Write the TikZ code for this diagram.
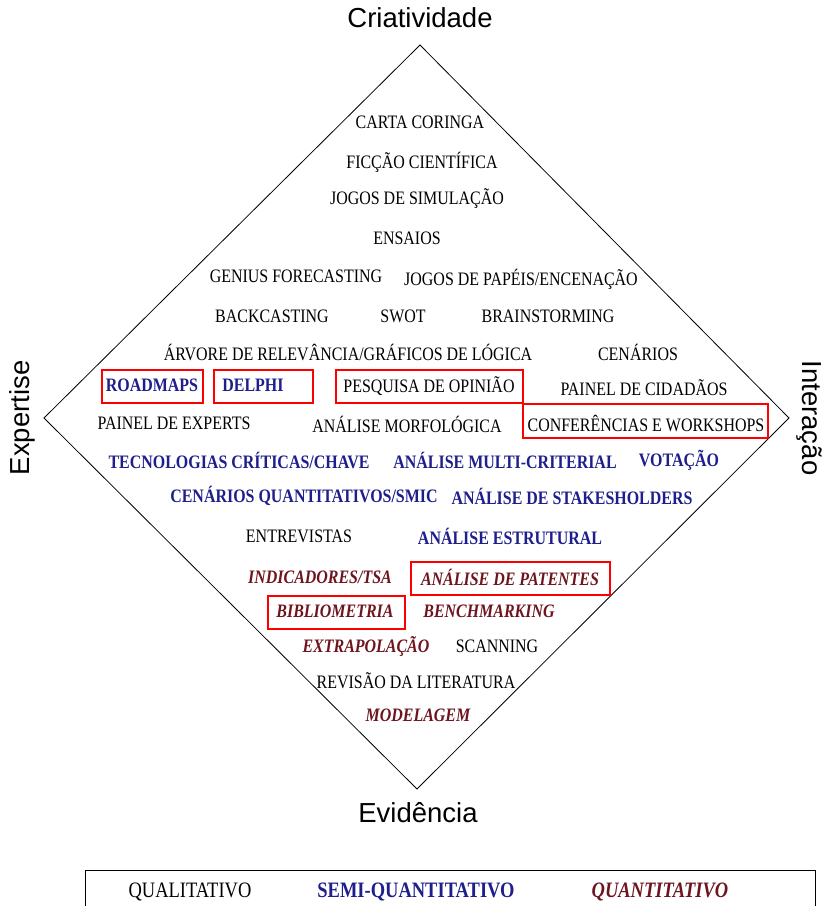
\documentclass[tikz,border=0pt]{standalone}
\usepackage{fontspec}
\setmainfont{Liberation Serif}
\newfontfamily\metodofont{Liberation Serif}[FakeStretch=0.84]
\newfontfamily\eixofont{Liberation Sans}
\usetikzlibrary{positioning}

\definecolor{semiazul}{RGB}{30,30,140}
\definecolor{quantivermelho}{RGB}{110,20,30}

\tikzset{
  quali/.style={font=\metodofont\fontsize{19}{19}\selectfont, inner sep=1pt},
  semi/.style={font=\metodofont\fontsize{19}{19}\selectfont\bfseries, text=semiazul, inner sep=1pt},
  quanti/.style={font=\metodofont\fontsize{19}{19}\selectfont\bfseries\itshape, text=quantivermelho, inner sep=1pt},
  destaque/.style={draw=red, line width=1.5pt},
  eixo/.style={font=\eixofont\fontsize{27.5}{27.5}\selectfont}
}

\begin{document}
\begin{tikzpicture}[x=1pt, y=-1pt]
  \path[use as bounding box, clip] (0,0) rectangle (825,906);

  % Losango
  \coordinate (topo) at (420,45);
  \coordinate (dir) at (789,418);
  \coordinate (base) at (417,789);
  \coordinate (esq) at (44,418);
  \draw[line width=0.8pt] (topo) -- (dir) -- (base) -- (esq) -- cycle;

  % Eixos
  \node[eixo] (criat) at (420,18) {Criatividade};
  \node[eixo] (evid) at (418,813) {Evidência};
  \node[eixo, rotate=90] (expert) at (22,418) {Expertise};
  \node[eixo, rotate=-90] (inter) at (809,418) {Interação};

  % Metodos
  \node[quali] (carta) at (420,122) {CARTA CORINGA};
  \node[quali] (ficcao) at (422,162) {FICÇÃO CIENTÍFICA};
  \node[quali] (jogossim) at (417,199) {JOGOS DE SIMULAÇÃO};
  \node[quali] (ensaios) at (407,238) {ENSAIOS};
  \node[quali] (genius) at (296,276) {GENIUS FORECASTING};
  \node[quali] (jogospap) at (521,279) {JOGOS DE PAPÉIS/ENCENAÇÃO};
  \node[quali] (backcast) at (272,316) {BACKCASTING};
  \node[quali] (swot) at (403,316) {SWOT};
  \node[quali] (brainst) at (548,316) {BRAINSTORMING};
  \node[quali] (arvore) at (348,352) {ÁRVORE DE RELEVÂNCIA/GRÁFICOS DE LÓGICA};
  \node[quali] (cenarios) at (638,352) {CENÁRIOS};
  \node[semi] (roadmaps) at (152,385) {ROADMAPS};
  \node[semi] (delphi) at (253,385) {DELPHI};
  \node[quali] (pesquisa) at (429,386) {PESQUISA DE OPINIÃO};
  \node[quali] (painelcid) at (644,388) {PAINEL DE CIDADÃOS};
  \node[quali] (painelexp) at (174,423) {PAINEL DE EXPERTS};
  \node[quali] (morfol) at (407,424) {ANÁLISE MORFOLÓGICA};
  \node[quali] (confer) at (646,423) {CONFERÊNCIAS E WORKSHOPS};
  \node[semi] (tecnol) at (239,460) {TECNOLOGIAS CRÍTICAS/CHAVE};
  \node[semi] (multicrit) at (505,460) {ANÁLISE MULTI-CRITERIAL};
  \node[semi] (votacao) at (679,460) {VOTAÇÃO};
  \node[semi] (smic) at (304,496) {CENÁRIOS QUANTITATIVOS/SMIC};
  \node[semi] (stakes) at (572,496) {ANÁLISE DE STAKESHOLDERS};
  \node[quali] (entrev) at (299,536) {ENTREVISTAS};
  \node[semi] (estrut) at (510,536) {ANÁLISE ESTRUTURAL};
  \node[quanti] (indic) at (320,577) {INDICADORES/TSA};
  \node[quanti] (patentes) at (510,577) {ANÁLISE DE PATENTES};
  \node[quanti] (biblio) at (335,611) {BIBLIOMETRIA};
  \node[quanti] (bench) at (489,611) {BENCHMARKING};
  \node[quanti] (extrap) at (366,646) {EXTRAPOLAÇÃO};
  \node[quali] (scanning) at (497,646) {SCANNING};
  \node[quali] (revisao) at (416,681) {REVISÃO DA LITERATURA};
  \node[quanti] (modelagem) at (418,715) {MODELAGEM};

  % Destaques
  \draw[destaque] (102,370) rectangle (203,403);
  \draw[destaque] (214,370) rectangle (313,403);
  \draw[destaque] (336,370) rectangle (523,403);
  \draw[destaque] (523,404) rectangle (768,438);
  \draw[destaque] (411,562) rectangle (610,595);
  \draw[destaque] (268,596) rectangle (405,629);

  % Legenda
  \draw[line width=0.8pt] (85,870) rectangle (815,920);
  \node[quali, font=\metodofont\fontsize{22}{22}\selectfont] (legquali) at (190,892) {QUALITATIVO};
  \node[semi, font=\metodofont\fontsize{22}{22}\selectfont\bfseries] (legsemi) at (416,892) {SEMI-QUANTITATIVO};
  \node[quanti, font=\metodofont\fontsize{22}{22}\selectfont\bfseries\itshape] (legquanti) at (660,892) {QUANTITATIVO};
\end{tikzpicture}
\end{document}
